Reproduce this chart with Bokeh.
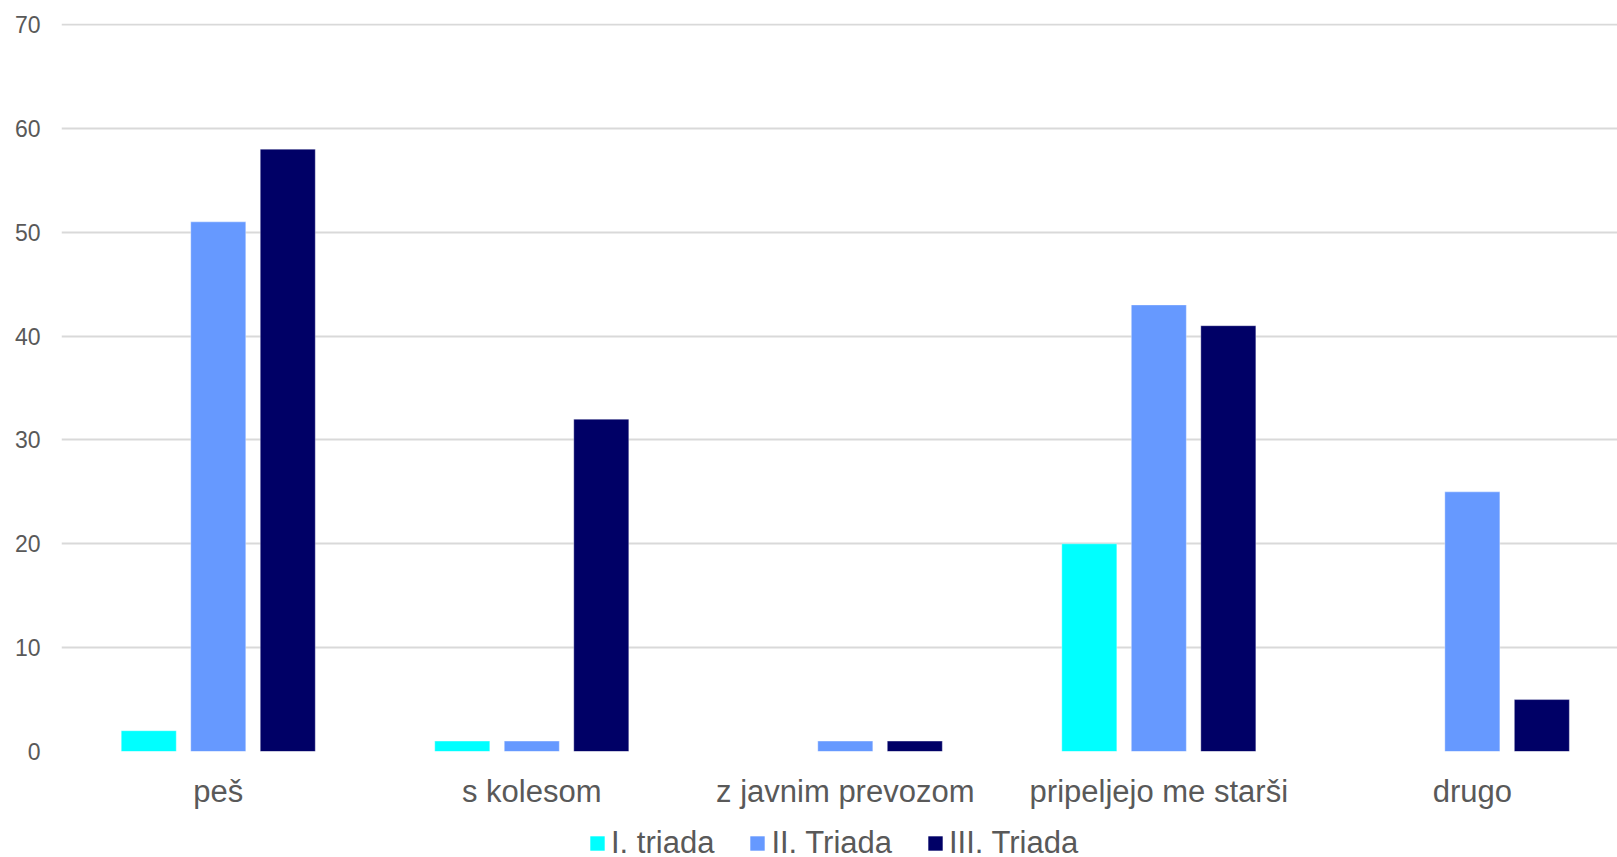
import numpy as np
from bokeh.plotting import figure
from bokeh.layouts import column
from bokeh.models import Range1d, FixedTicker, Legend, LegendItem, ColumnDataSource
from bokeh.embed import file_html
from bokeh.resources import INLINE

categories = ["peš", "s kolesom", "z javnim prevozom", "pripeljejo me starši", "drugo"]
series_names = ["I. triada", "II. Triada", "III. Triada"]
triada_1 = [2, 1, 0, 20, 0]
triada_2 = [51, 1, 1, 43, 25]
triada_3 = [58, 32, 1, 41, 5]
colors = ["#00FFFF", "#6699FF", "#000066"]
y_ticks = [0, 10, 20, 30, 40, 50, 60, 70]

FONT = "Liberation Sans"
TXT = "#595959"

main = figure(frame_width=1556, frame_height=728, output_backend="svg", toolbar_location=None,
              x_range=Range1d(0, 4.963), y_range=Range1d(0, 70.1),
              min_border_left=61, min_border_right=0, min_border_top=23, min_border_bottom=55)
main.outline_line_color = None

centers = np.arange(len(categories)) + 0.5
offsets = [-0.2217, 0.0, 0.2217]
bar_w = 0.1755
for vals, name, col, off in zip([triada_1, triada_2, triada_3], series_names, colors, offsets):
    src = ColumnDataSource(dict(x=centers + off, top=vals))
    main.vbar(x="x", top="top", bottom=0, width=bar_w, source=src,
              fill_color=col, line_color="white", line_alpha=0.35, line_width=1)

# axes
main.xaxis.ticker = FixedTicker(ticks=list(centers))
main.xaxis.major_label_overrides = {float(c): lab for c, lab in zip(centers, categories)}
main.xaxis.axis_line_color = None
main.xaxis.major_tick_line_color = None
main.xaxis.minor_tick_line_color = None
main.xaxis.major_label_text_font = FONT
main.xaxis.major_label_text_font_size = "31px"
main.xaxis.major_label_text_color = TXT
main.xaxis.major_label_standoff = 16

main.yaxis.ticker = FixedTicker(ticks=y_ticks)
main.yaxis.axis_line_color = None
main.yaxis.major_tick_line_color = None
main.yaxis.minor_tick_line_color = None
main.yaxis.major_tick_out = 0
main.yaxis.major_label_text_font = FONT
main.yaxis.major_label_text_font_size = "23px"
main.yaxis.major_label_text_color = TXT
main.yaxis.major_label_standoff = 21

main.xgrid.grid_line_color = None
main.ygrid.grid_line_color = "#D9D9D9"
main.ygrid.grid_line_width = 2

# legend strip below the chart
leg = figure(width=1617, height=51, output_backend="svg", toolbar_location=None,
             x_range=Range1d(0, 1), y_range=Range1d(0, 1),
             min_border_left=0, min_border_right=0, min_border_top=0, min_border_bottom=0)
leg.axis.visible = False
leg.grid.visible = False
leg.outline_line_color = None
items = []
for name, col in zip(series_names, colors):
    # zero-height proxy bar per series so the legend can draw its swatch
    r = leg.vbar(x=[0.5], top=[0], bottom=0, width=0.0, fill_color=col, line_color=None)
    items.append(LegendItem(label=name, renderers=[r]))

legend = Legend(items=items, orientation="horizontal", location=(527, 1),
                label_text_font=FONT, label_text_font_size="31px", label_text_color=TXT,
                glyph_width=18, glyph_height=18, label_standoff=5, spacing=34,
                padding=0, margin=0, border_line_color=None, background_fill_alpha=0)
leg.add_layout(legend, "center")

p = column(main, leg, spacing=0)

open("out.html", "w").write(file_html(p, INLINE))
